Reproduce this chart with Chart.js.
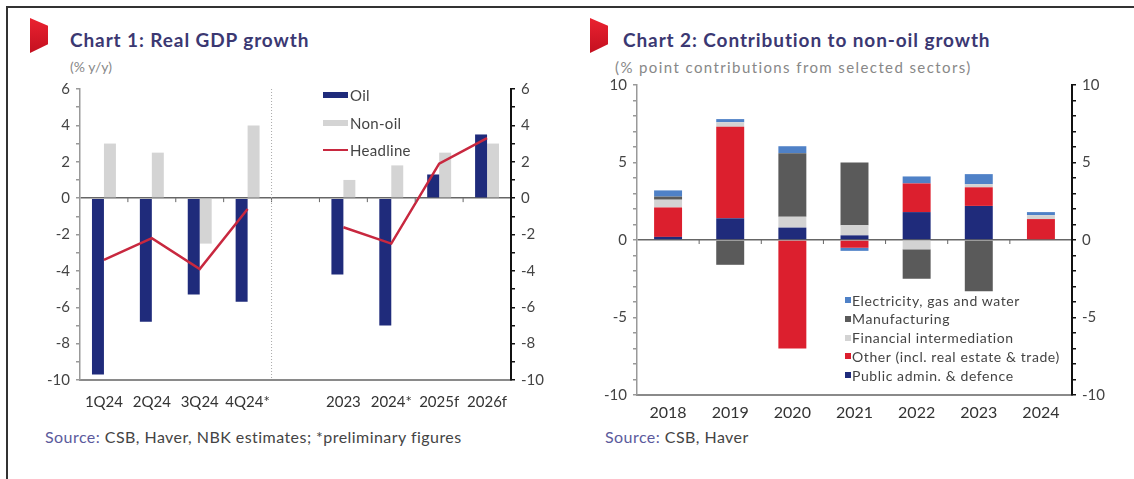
<!DOCTYPE html>
<html>
<head>
<meta charset="utf-8">
<title>Real GDP growth and non-oil contributions</title>
<script src="https://cdn.jsdelivr.net/npm/chart.js@4.4.1/dist/chart.umd.min.js"></script>
<style>
  body { margin: 0; width: 1134px; height: 479px; background: #fff; font-family: Lato, "Open Sans", sans-serif; position: relative; overflow: hidden; }
  .frame { position: absolute; left: 6px; top: 6px; right: 0; bottom: 0; border-top: 2px solid #333; border-left: 2px solid #333; }
  .flag { position: absolute; width: 18px; height: 35px; background: linear-gradient(#ea2230, #c41020); clip-path: polygon(0 0, 100% 22%, 100% 75%, 0 100%); }
  .title { position: absolute; font-weight: bold; font-size: 19px; line-height: 19px; letter-spacing: 0.9px; color: #3b3872; white-space: nowrap; }
  .sub { position: absolute; font-size: 14px; line-height: 14px; color: #888; white-space: nowrap; }
  .box { position: absolute; }
  .src { position: absolute; font-size: 16px; line-height: 16px; letter-spacing: 0.45px; color: #444; white-space: nowrap; }
  .src span { color: #5b5a9c; }
  .leg { position: absolute; height: 16px; display: flex; align-items: center; font-size: 14px; letter-spacing: 0.6px; color: #444; white-space: nowrap; }
  .leg1 { font-size: 15px; letter-spacing: 0.3px; }
  .sw { display: inline-block; margin-right: 2px; }
</style>
</head>
<body>
<div class="frame"></div>

<!-- Chart 1 -->
<div class="flag" style="left:30px; top:18px;"></div>
<div class="title" style="left:70px; top:30px;">Chart 1: Real GDP growth</div>
<div class="sub" style="left:70px; top:60px;">(% y/y)</div>
<div class="box" style="left:40px; top:74px; width:505px; height:341px;"><canvas id="gdpChart"></canvas></div>
<div class="leg leg1" style="left:323px; top:87px;"><span class="sw" style="width:25px; height:6px; background:#1f2b7b;"></span>Oil</div>
<div class="leg leg1" style="left:323px; top:115px;"><span class="sw" style="width:25px; height:6px; background:#d4d4d4;"></span>Non-oil</div>
<div class="leg leg1" style="left:323px; top:142px;"><span class="sw" style="width:25px; height:2px; background:#c8283f;"></span>Headline</div>
<div class="src" style="left:45px; top:429px;"><span>Source:</span> CSB, Haver, NBK estimates; *preliminary figures</div>

<!-- Chart 2 -->
<div class="flag" style="left:590px; top:18px;"></div>
<div class="title" style="left:623px; top:30px;">Chart 2: Contribution to non-oil growth</div>
<div class="sub" style="left:615px; top:60px; font-size:15px; letter-spacing:1.4px;">(% point contributions from selected sectors)</div>
<div class="box" style="left:590px; top:70px; width:520px; height:355px;"><canvas id="sectorChart"></canvas></div>
<div id="sectorLegend"></div>
<div class="src" style="left:605px; top:429px;"><span>Source:</span> CSB, Haver</div>

<script>
// Chart 1 data (% y/y); the empty label is the gap between quarters and years
const gdpLabels = ['1Q24', '2Q24', '3Q24', '4Q24*', '', '2023', '2024*', '2025f', '2026f'];
const gdpOil = [-9.7, -6.8, -5.3, -5.7, null, -4.2, -7.0, 1.3, 3.5];
const gdpNonOil = [3.0, 2.5, -2.5, 4.0, null, 1.0, 1.8, 2.5, 3.0];
const gdpHeadline = [-3.4, -2.2, -3.9, -0.6, null, -1.6, -2.5, 1.9, 3.3];
const gdpRange = [-10, 6];

// Chart 2 data (% point contributions)
const sectorYears = ['2018', '2019', '2020', '2021', '2022', '2023', '2024'];
const publicAdmin = [0.2, 1.4, 0.8, 0.3, 1.8, 2.2, 0.0];
const otherSectors = [1.9, 5.9, -7.0, -0.5, 1.85, 1.2, 1.35];
const financial = [0.5, 0.3, 0.7, 0.65, -0.6, 0.2, 0.25];
const manufacturing = [0.2, -1.6, 4.1, 4.05, -1.9, -3.3, 0.0];
const electricity = [0.4, 0.2, 0.45, -0.2, 0.45, 0.65, 0.2];
const sectorRange = [-10, 10];

const FONT = 'Lato, "Open Sans", sans-serif';

// short marks on the zero line between categories, plus an optional dotted divider
const boundaryMarks = {
    id: 'boundaryMarks',
    afterDatasetsDraw(chart, args, opts) {
        const x = chart.scales.x;
        const y = chart.scales.y;
        const ctx = chart.ctx;
        const y0 = y.getPixelForValue(0);
        ctx.save();
        ctx.strokeStyle = '#666';
        ctx.lineWidth = 1;
        for (let i = 1; i < chart.data.labels.length; i++) {
            const bx = (x.getPixelForValue(i - 1) + x.getPixelForValue(i)) / 2;
            ctx.beginPath();
            ctx.moveTo(bx, y0);
            ctx.lineTo(bx, y0 + 4);
            ctx.stroke();
        }
        if (opts.divider != null) {
            const i = opts.divider;
            const dx = (x.getPixelForValue(i - 1) + x.getPixelForValue(i)) / 2;
            ctx.strokeStyle = '#aaa';
            ctx.setLineDash([1, 2]);
            ctx.beginPath();
            ctx.moveTo(dx, chart.chartArea.top);
            ctx.lineTo(dx, chart.chartArea.bottom);
            ctx.stroke();
        }
        ctx.restore();
    }
};

// y axis shared settings: minor tick every 1, labels only every `every`
function valueAxis(position, range, every, width, borderColor, borderWidth, onChart) {
    return {
        position: position,
        min: range[0],
        max: range[1],
        afterFit: s => { s.width = width; },
        ticks: {
            stepSize: 1,
            autoSkip: false,
            color: '#444',
            font: { family: FONT, size: 15 },
            padding: 6,
            callback: v => (v % every === 0 ? v : '')
        },
        grid: {
            drawOnChartArea: onChart,
            color: c => (c.tick && c.tick.value === 0 ? '#666' : 'rgba(0,0,0,0)'),
            lineWidth: 1.5,
            tickColor: borderColor,
            tickLength: 4
        },
        border: { color: borderColor, width: borderWidth }
    };
}

function categoryAxis(height, padding, size) {
    return {
        afterFit: s => { s.height = height; },
        grid: { display: false, drawTicks: false },
        border: { color: '#8a8a8a', width: 2 },
        ticks: { color: '#333', font: { family: FONT, size: size }, padding: padding, maxRotation: 0, autoSkip: false }
    };
}

// Chart 1: oil / non-oil bars with headline line
new Chart(document.getElementById('gdpChart').getContext('2d'), {
    type: 'bar',
    data: {
        labels: gdpLabels,
        datasets: [
            { type: 'line', label: 'Headline', data: gdpHeadline, borderColor: '#c8283f', borderWidth: 2.5, pointRadius: 0, spanGaps: false, order: 0, yAxisID: 'y' },
            { label: 'Oil', data: gdpOil, backgroundColor: '#1f2b7b', order: 1, yAxisID: 'y' },
            { label: 'Non-oil', data: gdpNonOil, backgroundColor: '#d4d4d4', order: 1, yAxisID: 'y' }
        ]
    },
    options: {
        responsive: true,
        maintainAspectRatio: false,
        animation: false,
        categoryPercentage: 0.5,
        barPercentage: 1.0,
        layout: { padding: { top: 1, left: 0, right: 0, bottom: 0 } },
        plugins: { legend: { display: false }, tooltip: { enabled: false }, boundaryMarks: { divider: 4 } },
        scales: {
            x: categoryAxis(35, 13, 15),
            y: valueAxis('left', gdpRange, 2, 40, '#999', 1.5, true),
            y2: valueAxis('right', gdpRange, 2, 34, '#111', 2, false)
        }
    },
    plugins: [boundaryMarks]
});

// Chart 2: stacked sector contributions; legend order is reverse of stacking
const sectorSeries = [
    { label: 'Public admin. & defence', data: publicAdmin, color: '#1f2b7b' },
    { label: 'Other (incl. real estate & trade)', data: otherSectors, color: '#dc1f2e' },
    { label: 'Financial intermediation', data: financial, color: '#d3d3d3' },
    { label: 'Manufacturing', data: manufacturing, color: '#5a5a5a' },
    { label: 'Electricity, gas and water', data: electricity, color: '#4f81c7' }
];

new Chart(document.getElementById('sectorChart').getContext('2d'), {
    type: 'bar',
    data: {
        labels: sectorYears,
        datasets: sectorSeries.map(s => ({ label: s.label, data: s.data, backgroundColor: s.color, yAxisID: 'y' }))
    },
    options: {
        responsive: true,
        maintainAspectRatio: false,
        animation: false,
        categoryPercentage: 0.5,
        barPercentage: 0.9,
        layout: { padding: { top: 1, left: 0, right: 0, bottom: 0 } },
        plugins: { legend: { display: false }, tooltip: { enabled: false }, boundaryMarks: {} },
        scales: {
            x: Object.assign(categoryAxis(30, 8, 16), { stacked: true }),
            y: Object.assign(valueAxis('left', sectorRange, 5, 47, '#999', 1.5, true), { stacked: true }),
            y2: valueAxis('right', sectorRange, 5, 38, '#111', 2, false)
        }
    },
    plugins: [boundaryMarks]
});

// HTML legend for chart 2, top to bottom
const legendBox = document.getElementById('sectorLegend');
sectorSeries.slice().reverse().forEach((s, i) => {
    const row = document.createElement('div');
    row.className = 'leg';
    row.style.left = '845px';
    row.style.top = (292 + i * 18.8) + 'px';
    row.innerHTML = '<span class="sw" style="width:6px;height:6px;background:' + s.color + ';margin-right:1px"></span>' + s.label.replace('&', '&amp;');
    legendBox.appendChild(row);
});
</script>
</body>
</html>
